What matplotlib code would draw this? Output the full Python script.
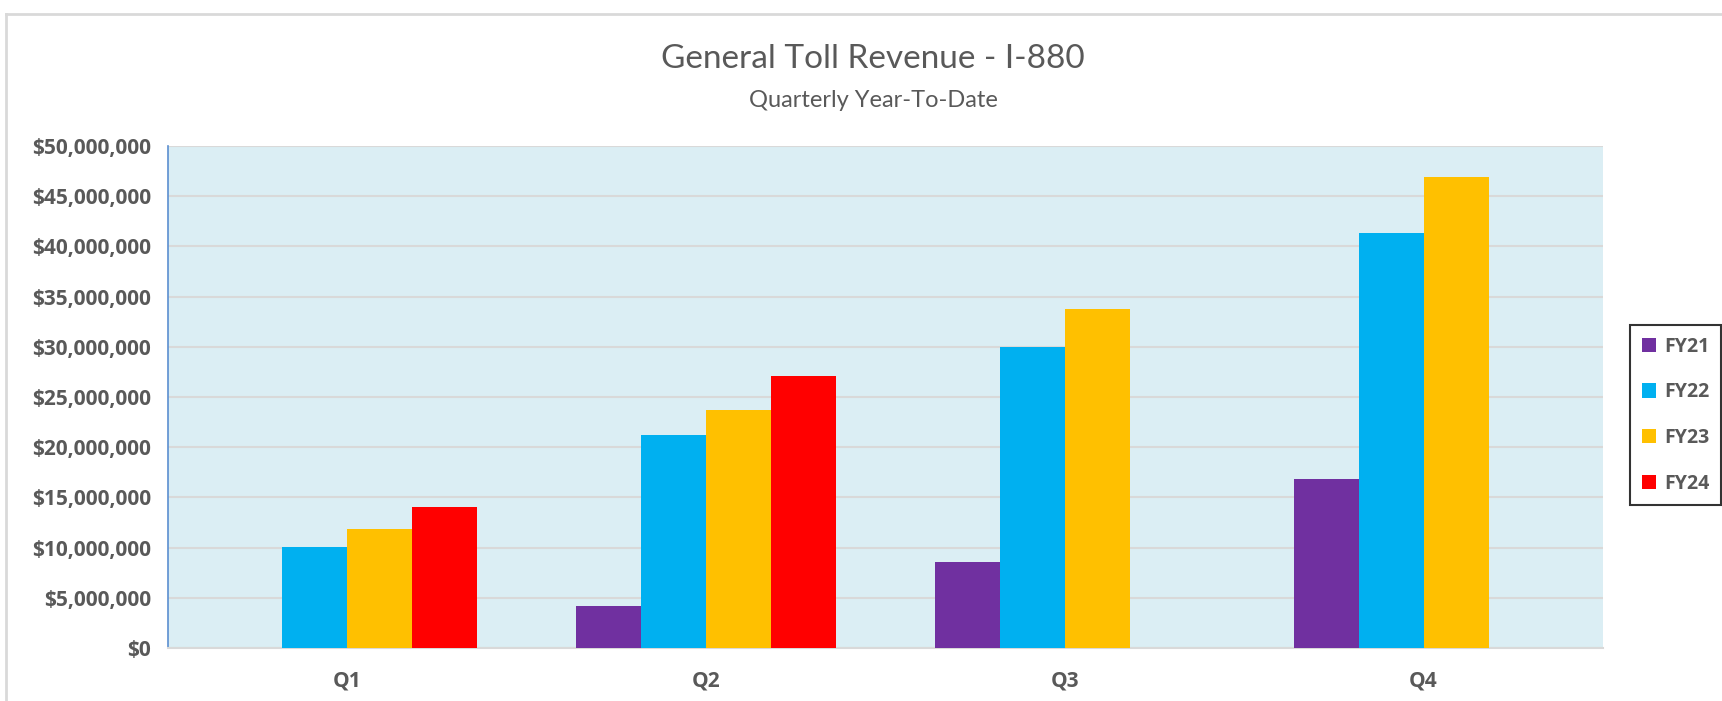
import matplotlib
matplotlib.use("Agg")
from matplotlib import pyplot as plt
from matplotlib.lines import Line2D
from matplotlib.ticker import FuncFormatter, MultipleLocator
import numpy as np

# data
quarters = ["Q1", "Q2", "Q3", "Q4"]
fy21 = [0, 4.17e6, 8.6e6, 16.8e6]
fy22 = [10.07e6, 21.25e6, 30.0e6, 41.3e6]
fy23 = [11.85e6, 23.7e6, 33.8e6, 46.9e6]
fy24 = [14.0e6, 27.1e6, 0, 0]
series_names = ["FY21", "FY22", "FY23", "FY24"]
series_colors = ["#7030A0", "#00B0F0", "#FFC000", "#FF0000"]

plt.rcParams['font.family'] = ['Lato', 'DejaVu Sans']
text_color = "#595959"
bold_font = ['Open Sans', 'DejaVu Sans']

fig = plt.figure(figsize=(17.22, 7.01), dpi=100)
ax = fig.add_axes([168/1722, 1 - 648/701, (1603-168)/1722, (648-146)/701])
ax.set_facecolor("#DBEEF4")

x = np.arange(len(quarters))
width = 0.181
all_series = [fy21, fy22, fy23, fy24]
for i, (vals, name, col) in enumerate(zip(all_series, series_names, series_colors)):
    offset = (i - 1.5) * width
    ax.bar(x + offset, vals, width, color=col, label=name, zorder=3)

ax.set_xlim(-0.5, 3.5)
ax.set_ylim(0, 50e6)
ax.yaxis.set_major_locator(MultipleLocator(5e6))
ax.yaxis.set_major_formatter(FuncFormatter(lambda v, p: "${:,.0f}".format(v)))
ax.grid(axis='y', color="#D9D9D9", linewidth=1.5, zorder=0)
ax.set_xticks(x)
ax.set_xticklabels(quarters)
ax.tick_params(axis='both', length=0, colors=text_color)
ax.tick_params(axis='y', pad=12)
ax.tick_params(axis='x', pad=16)
for lbl in ax.get_xticklabels() + ax.get_yticklabels():
    lbl.set_fontweight('bold')
    lbl.set_family(bold_font)
    lbl.set_fontsize(15)

for s in ['top', 'right']:
    ax.spines[s].set_visible(False)
ax.spines['left'].set_color("#5B8FD0")
ax.spines['left'].set_linewidth(1.2)
ax.spines['bottom'].set_color("#D9D9D9")
ax.spines['bottom'].set_linewidth(1.5)

# title and subtitle
fig.text(873/1722, 1 - 68/701, "General Toll Revenue - I-880", ha='center', va='baseline',
         fontsize=24, color=text_color)
fig.text(873/1722, 1 - 107/701, "Quarterly Year-To-Date", ha='center', va='baseline',
         fontsize=17, color=text_color)

# outer chart border (top and left visible)
fig.add_artist(Line2D([6/1722, 1], [1 - 14/701, 1 - 14/701], color="#D9D9D9", lw=2))
fig.add_artist(Line2D([6/1722, 6/1722], [0, 1 - 14/701], color="#D9D9D9", lw=2))

leg = fig.legend(loc='upper right', bbox_to_anchor=(1721/1722, 1 - 325/701),
                 frameon=True, fancybox=False, edgecolor='black',
                 handlelength=0.75, handleheight=0.75, handletextpad=0.4,
                 labelspacing=1.32, borderpad=0.6, borderaxespad=0,
                 prop={'weight': 'bold', 'size': 14, 'family': bold_font})
leg.get_frame().set_linewidth(1.5)
for t in leg.get_texts():
    t.set_color(text_color)

fig.savefig("out.png", dpi=100)
